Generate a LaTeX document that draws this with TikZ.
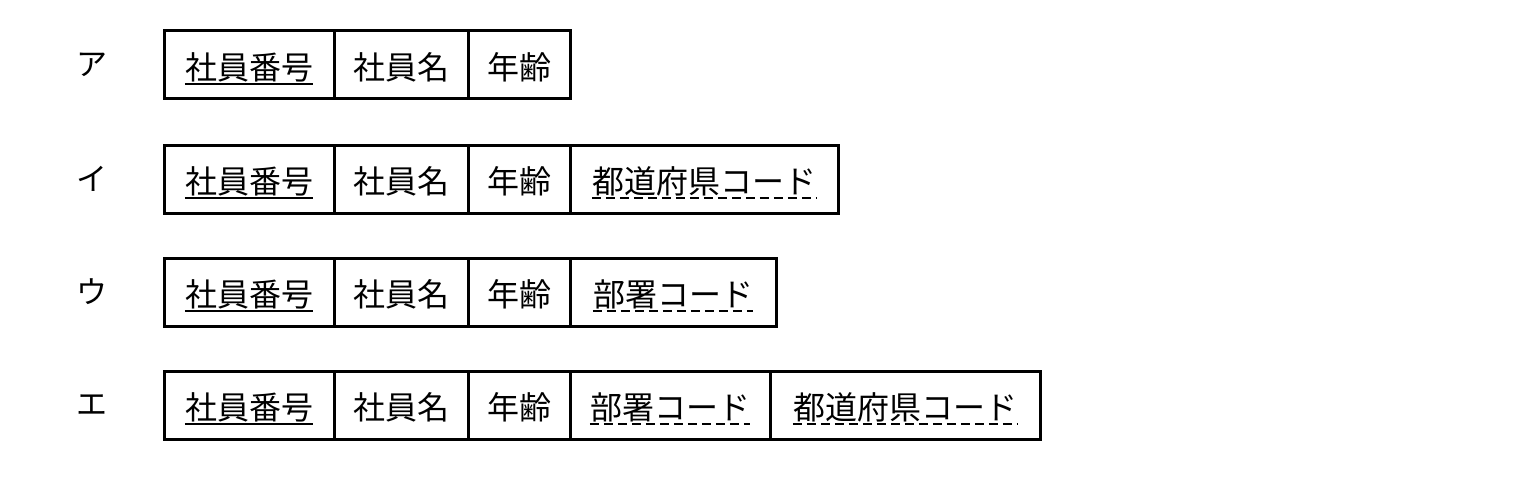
\documentclass[tikz,border=0pt]{standalone}
\usepackage{fontspec}
\setmainfont{Noto Sans CJK JP}
\begin{document}
\begin{tikzpicture}[x=1pt,y=-1pt,
  cell/.style={draw, line width=3pt, minimum height=68pt, inner sep=0pt, outer sep=0pt},
  txt/.style={inner sep=0pt, font=\fontsize{32}{32}\selectfont},
  lbl/.style={inner sep=0pt, font=\fontsize{31}{31}\selectfont},
  pkline/.style={line width=2.2pt},
  fkline/.style={line width=2pt, dash pattern=on 9pt off 5pt}]
\useasboundingbox (0,0) rectangle (1522,484);

% one table cell: name, left x, right x, centre y, text
\newcommand\tcell[5]{%
  \node[cell, minimum width={(#3-#2)*1pt}] (#1) at ({(#2+#3)/2}, #4) {};
  \node[txt] (#1t) at ([yshift=-2pt]#1.center) {#5};}
\newcommand\pkul[1]{\draw[pkline] ([yshift=-2pt]#1.south west) -- ([yshift=-2pt]#1.south east);}
\newcommand\fkul[1]{\draw[fkline] ([yshift=-2pt]#1.south west) -- ([yshift=-2pt]#1.south east);}

% row labels
\node[lbl] (la) at (92,65)  {ア};
\node[lbl] (li) at (92,179) {イ};
\node[lbl] (lu) at (92,292) {ウ};
\node[lbl] (le) at (92,405) {エ};

% ア
\tcell{a1}{164}{334}{65}{社員番号}
\tcell{a2}{334}{468}{65}{社員名}
\tcell{a3}{468}{570}{65}{年齢}
\pkul{a1t}

% イ
\tcell{b1}{164}{334}{179}{社員番号}
\tcell{b2}{334}{468}{179}{社員名}
\tcell{b3}{468}{570}{179}{年齢}
\tcell{b4}{570}{838}{179}{都道府県コード}
\pkul{b1t}
\fkul{b4t}

% ウ
\tcell{c1}{164}{334}{292}{社員番号}
\tcell{c2}{334}{468}{292}{社員名}
\tcell{c3}{468}{570}{292}{年齢}
\tcell{c4}{570}{776}{292}{部署コード}
\pkul{c1t}
\fkul{c4t}

% エ
\tcell{d1}{164}{334}{405}{社員番号}
\tcell{d2}{334}{468}{405}{社員名}
\tcell{d3}{468}{570}{405}{年齢}
\tcell{d4}{570}{770}{405}{部署コード}
\tcell{d5}{770}{1040}{405}{都道府県コード}
\pkul{d1t}
\fkul{d4t}
\fkul{d5t}
\end{tikzpicture}
\end{document}
